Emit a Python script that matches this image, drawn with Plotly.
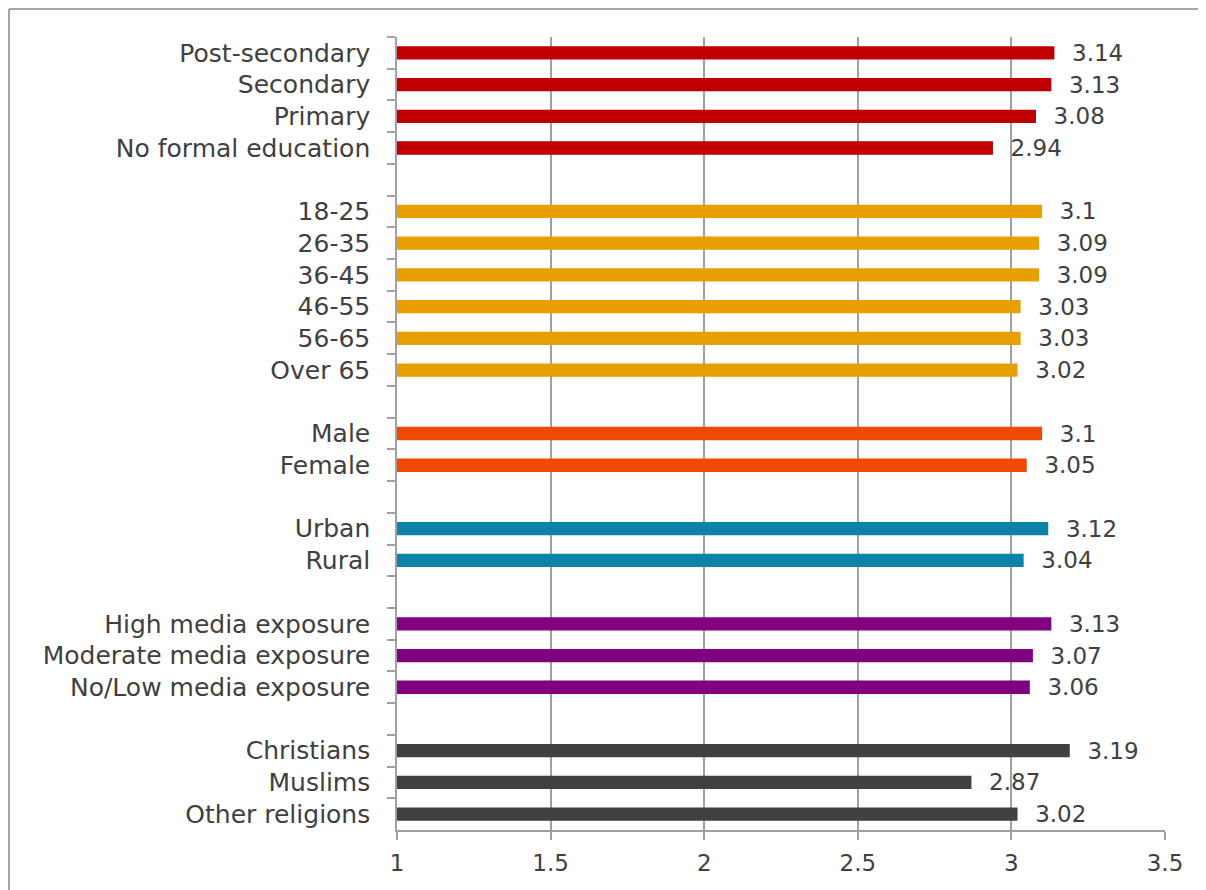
import plotly.graph_objects as go

# ---- data ----
education_labels = ["Post-secondary", "Secondary", "Primary", "No formal education"]
education_values = [3.14, 3.13, 3.08, 2.94]

age_labels = ["18-25", "26-35", "36-45", "46-55", "56-65", "Over 65"]
age_values = [3.10, 3.09, 3.09, 3.03, 3.03, 3.02]

gender_labels = ["Male", "Female"]
gender_values = [3.10, 3.05]

location_labels = ["Urban", "Rural"]
location_values = [3.12, 3.04]

media_labels = ["High media exposure", "Moderate media exposure", "No/Low media exposure"]
media_values = [3.13, 3.07, 3.06]

religion_labels = ["Christians", "Muslims", "Other religions"]
religion_values = [3.19, 2.87, 3.02]

x_ticks = [1, 1.5, 2, 2.5, 3, 3.5]

groups = [
    (education_labels, education_values, "#C00000"),
    (age_labels, age_values, "#E8A000"),
    (gender_labels, gender_values, "#F04A00"),
    (location_labels, location_values, "#0E83A8"),
    (media_labels, media_values, "#800080"),
    (religion_labels, religion_values, "#404040"),
]

# build category order with blank spacer rows between groups
categories = []
for i, (labels, _, _) in enumerate(groups):
    if i > 0:
        categories.append(" " * i)
    categories.extend(labels)

FONT = "DejaVu Sans, sans-serif"
TXT = "#404040"
FS_LABEL = 25
FS_NUM = 23

W, H = 1198, 882
L, R, T, B = 389, 41, 29, 60
PW, PH = W - L - R, H - T - B

fig = go.Figure()
for labels, values, color in groups:
    fig.add_trace(go.Bar(
        y=labels, x=values, orientation="h",
        marker=dict(color=color, line=dict(width=0)),
        text=[f"  {v:g}" for v in values],
        textposition="outside", cliponaxis=False, constraintext="none",
        textfont=dict(family=FONT, size=FS_NUM, color=TXT),
        showlegend=False, hoverinfo="skip",
    ))
# spacer rows (invisible)
spacers = [c for c in categories if c.strip() == ""]
fig.add_trace(go.Bar(y=spacers, x=[None] * len(spacers), orientation="h",
                     showlegend=False, hoverinfo="skip"))

fig.update_layout(
    width=W, height=H,
    margin=dict(l=L, r=R, t=T, b=B),
    paper_bgcolor="white", plot_bgcolor="white",
    barmode="overlay", bargap=0.58,
    font=dict(family=FONT, size=FS_NUM, color=TXT),
    xaxis=dict(
        range=[1, 3.5], tickvals=x_ticks, ticktext=[f"{t:g}" for t in x_ticks],
        showgrid=True, gridcolor="#A0A0A0", gridwidth=1.5,
        showline=True, linecolor="#A0A0A0", linewidth=1.5,
        ticks="outside", ticklen=8, tickcolor="#A0A0A0", tickwidth=1.5,
        ticklabelstandoff=4,
        zeroline=False, tickfont=dict(family=FONT, size=FS_NUM, color=TXT),
    ),
    yaxis=dict(
        type="category", categoryorder="array", categoryarray=categories,
        range=[len(categories) - 0.5, -0.5],
        showline=True, linecolor="#A0A0A0", linewidth=1.5,
        ticks="outside", tickson="boundaries", ticklen=8,
        tickcolor="#A0A0A0", tickwidth=1.5, showgrid=False,
        ticklabelstandoff=20,
        tickfont=dict(family=FONT, size=FS_LABEL, color=TXT),
    ),
    shapes=[
        dict(type="line", xref="paper", yref="paper",
             x0=(1 - L) / PW, x1=(W - L) / PW,
             y0=1 + (T - 1) / PH, y1=1 + (T - 1) / PH,
             line=dict(color="#888888", width=1.5)),
        dict(type="line", xref="paper", yref="paper",
             x0=(1 - L) / PW, x1=(1 - L) / PW,
             y0=1 + (T - 1) / PH, y1=-B / PH,
             line=dict(color="#888888", width=1.5)),
    ],
)

fig.write_html("out.html")
